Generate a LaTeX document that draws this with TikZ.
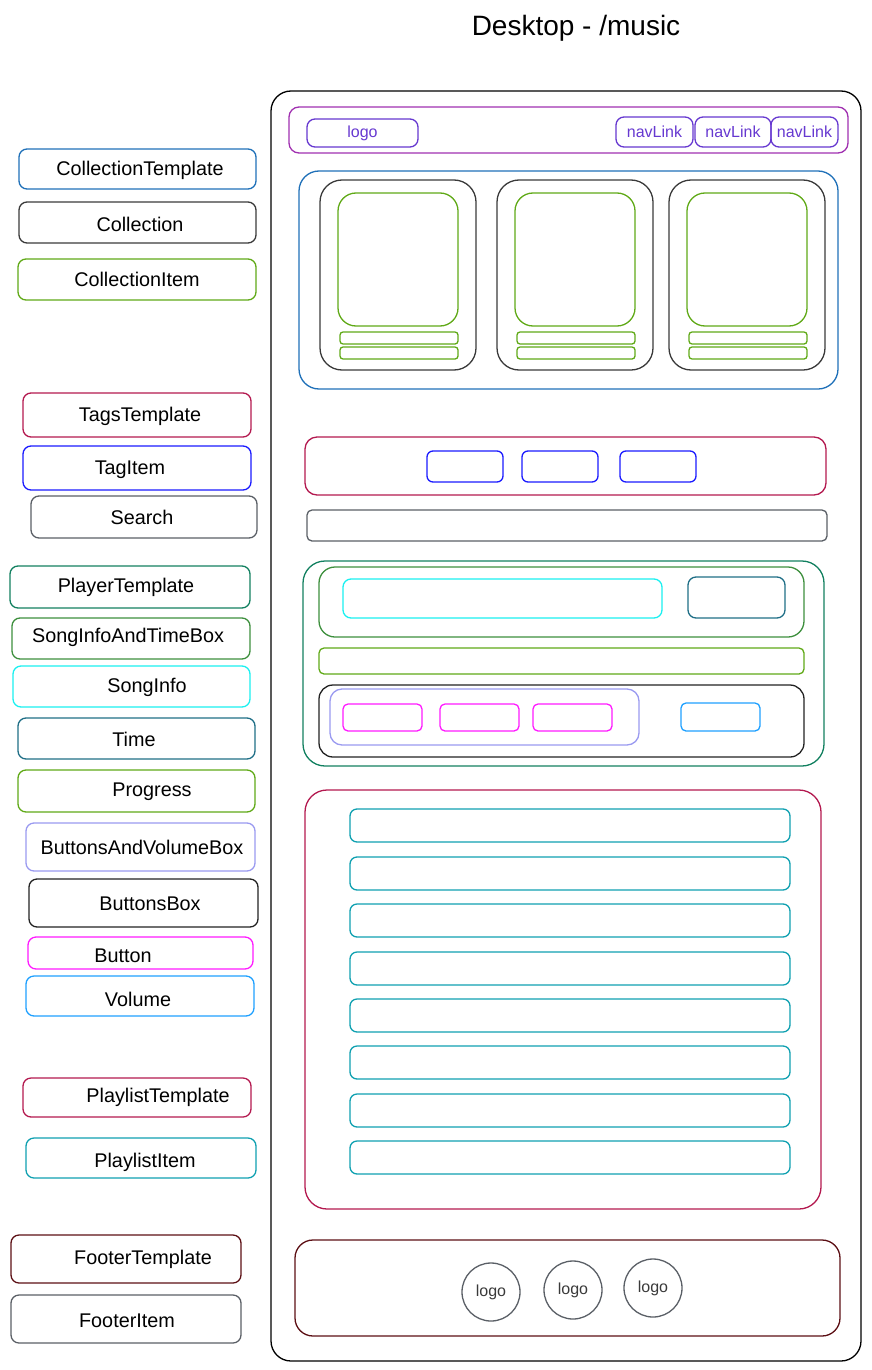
\documentclass[tikz,border=0pt]{standalone}
\usepackage{fontspec}
\setmainfont{Liberation Sans}
\usetikzlibrary{fit}
\definecolor{ctblue}{HTML}{1F70B8}
\definecolor{cgray}{HTML}{3A3A3A}
\definecolor{cgreen}{HTML}{60A917}
\definecolor{tred}{HTML}{B3194F}
\definecolor{tblue}{HTML}{1A1AFF}
\definecolor{sgray}{HTML}{5A5F66}
\definecolor{pgreen}{HTML}{128060}
\definecolor{sgreen}{HTML}{3D8F3D}
\definecolor{scyan}{HTML}{1AF0F0}
\definecolor{tteal}{HTML}{1F6E86}
\definecolor{lav}{HTML}{9A9AF0}
\definecolor{bdark}{HTML}{222222}
\definecolor{bmag}{HTML}{FF1AFF}
\definecolor{vblue}{HTML}{1EA0FF}
\definecolor{plteal}{HTML}{0FA0B0}
\definecolor{fred}{HTML}{5C0F14}
\definecolor{hpurple}{HTML}{A030B0}
\definecolor{npurple}{HTML}{6638D0}
\tikzset{
  frame/.style={draw, line width=1.3pt, rounded corners=8pt, inner sep=0pt},
  lbl/.style={font=\fontsize{19.8}{22}\selectfont, inner sep=0pt, yshift=-1.5pt},
  small/.style={font=\fontsize{16}{18}\selectfont, inner sep=0pt},
}
\newcommand{\lbox}[6]{%
  \node[frame, draw=#2, fit={#3 #4}] (#1) {};
  \node[lbl] (#1-txt) at #5 {#6};}

\begin{document}
\begin{tikzpicture}[x=1pt,y=-1pt]
  \useasboundingbox (0,0) rectangle (871,1370);
  \node[font=\fontsize{28}{32}\selectfont] (title) at (576,28) {Desktop - /music};

  % legend
  \lbox{lCT}{ctblue}{(19,149)}{(256,189)}{(140,169)}{CollectionTemplate}
  \lbox{lC}{cgray}{(19,202)}{(256,243)}{(140,223)}{Collection}
  \lbox{lCI}{cgreen}{(18,259)}{(256,300)}{(137,278)}{CollectionItem}
  \lbox{lTT}{tred}{(23,393)}{(251,437)}{(140,415)}{TagsTemplate}
  \lbox{lTI}{tblue}{(23,446)}{(251,490)}{(130,468)}{TagItem}
  \lbox{lS}{sgray}{(31,496)}{(257,538)}{(142,516)}{Search}
  \lbox{lPT}{pgreen}{(10,566)}{(250,608)}{(126,586)}{PlayerTemplate}
  \lbox{lSB}{sgreen}{(12,618)}{(250,659)}{(128,636)}{SongInfoAndTimeBox}
  \lbox{lSI}{scyan}{(13,666)}{(250,707)}{(147,686)}{SongInfo}
  \lbox{lTm}{tteal}{(18,718)}{(255,759)}{(134,738)}{Time}
  \lbox{lPr}{cgreen}{(18,770)}{(255,812)}{(152,790)}{Progress}
  \lbox{lBV}{lav}{(26,823)}{(255,871)}{(142,846)}{ButtonsAndVolumeBox}
  \lbox{lBB}{bdark}{(29,879)}{(258,927)}{(150,902)}{ButtonsBox}
  \lbox{lBt}{bmag}{(28,937)}{(253,969)}{(123,954)}{Button}
  \lbox{lV}{vblue}{(26,976)}{(254,1016)}{(138,998)}{Volume}
  \lbox{lPl}{tred}{(23,1078)}{(251,1117)}{(158,1096)}{PlaylistTemplate}
  \lbox{lPI}{plteal}{(26,1138)}{(256,1178)}{(145,1161)}{PlaylistItem}
  \lbox{lFT}{fred}{(11,1235)}{(241,1283)}{(143,1258)}{FooterTemplate}
  \lbox{lFI}{sgray}{(11,1295)}{(241,1343)}{(127,1319)}{FooterItem}

  % page
  \node[frame, draw=black, rounded corners=20pt, fit={(271,91) (861,1361)}] (page) {};

  % header
  \node[frame, draw=hpurple, rounded corners=10pt, fit={(289,107) (848,153)}] (header) {};
  \node[frame, draw=npurple, fit={(307,119) (418,147)}] (hlogo) {};
  \node[small, text=npurple] (hlogo-txt) at (hlogo.center) {logo};
  \foreach \i/\a/\b in {1/616/693,2/695/771,3/771/838}{
    \node[frame, draw=npurple, fit={(\a,117) (\b,147)}] (nav\i) {};
    \node[small, text=npurple] (nav\i-txt) at (nav\i.center) {navLink};
  }

  % collection
  \node[frame, draw=ctblue, rounded corners=20pt, fit={(299,171) (838,389)}] (coll) {};
  \foreach \i/\x in {1/320,2/497,3/669}{
    \node[frame, draw=cgray, rounded corners=22pt, fit={(\x,180) (\x+156,370)}] (col\i) {};
    \node[frame, draw=cgreen, rounded corners=18pt, fit={(\x+18,193) (\x+138,326)}] (img\i) {};
    \node[frame, draw=cgreen, rounded corners=3pt, fit={(\x+20,332) (\x+138,344)}] (bar\i a) {};
    \node[frame, draw=cgreen, rounded corners=3pt, fit={(\x+20,347) (\x+138,359)}] (bar\i b) {};
  }

  % tags and search
  \node[frame, draw=tred, rounded corners=12pt, fit={(305,437) (826,495)}] (tags) {};
  \foreach \i/\a in {1/427,2/522,3/620}
    \node[frame, draw=tblue, rounded corners=6pt, fit={(\a,451) (\a+76,482)}] (tag\i) {};
  \node[frame, draw=sgray, rounded corners=5pt, fit={(307,510) (827,541)}] (search) {};

  % player
  \node[frame, draw=pgreen, rounded corners=22pt, fit={(303,561) (824,766)}] (player) {};
  \node[frame, draw=sgreen, rounded corners=16pt, fit={(319,567) (804,637)}] (songbox) {};
  \node[frame, draw=scyan, fit={(343,579) (662,618)}] (songinfo) {};
  \node[frame, draw=tteal, fit={(688,577) (785,618)}] (time) {};
  \node[frame, draw=cgreen, rounded corners=5pt, fit={(319,648) (804,674)}] (progress) {};
  \node[frame, draw=bdark, rounded corners=14pt, fit={(319,685) (804,757)}] (btnbox) {};
  \node[frame, draw=lav, rounded corners=12pt, fit={(330,689) (639,745)}] (bvbox) {};
  \foreach \i/\a in {1/343,2/440,3/533}
    \node[frame, draw=bmag, rounded corners=5pt, fit={(\a,704) (\a+79,731)}] (btn\i) {};
  \node[frame, draw=vblue, rounded corners=5pt, fit={(681,703) (760,731)}] (volume) {};

  % playlist
  \node[frame, draw=tred, rounded corners=22pt, fit={(305,790) (821,1209)}] (playlist) {};
  \foreach \i/\y in {1/809,2/857,3/904,4/952,5/999,6/1046,7/1094,8/1141}
    \node[frame, draw=plteal, rounded corners=7pt, fit={(350,\y) (790,\y+33)}] (pitem\i) {};

  % footer
  \node[frame, draw=fred, rounded corners=18pt, fit={(295,1240) (840,1336)}] (footer) {};
  \foreach \i/\x/\y in {1/491/1292,2/573/1290,3/653/1288}
    \node[circle, draw=sgray, line width=1.3pt, minimum size=58pt, inner sep=0pt,
          small, text=cgray] (flogo\i) at (\x,\y) {logo};
\end{tikzpicture}
\end{document}
